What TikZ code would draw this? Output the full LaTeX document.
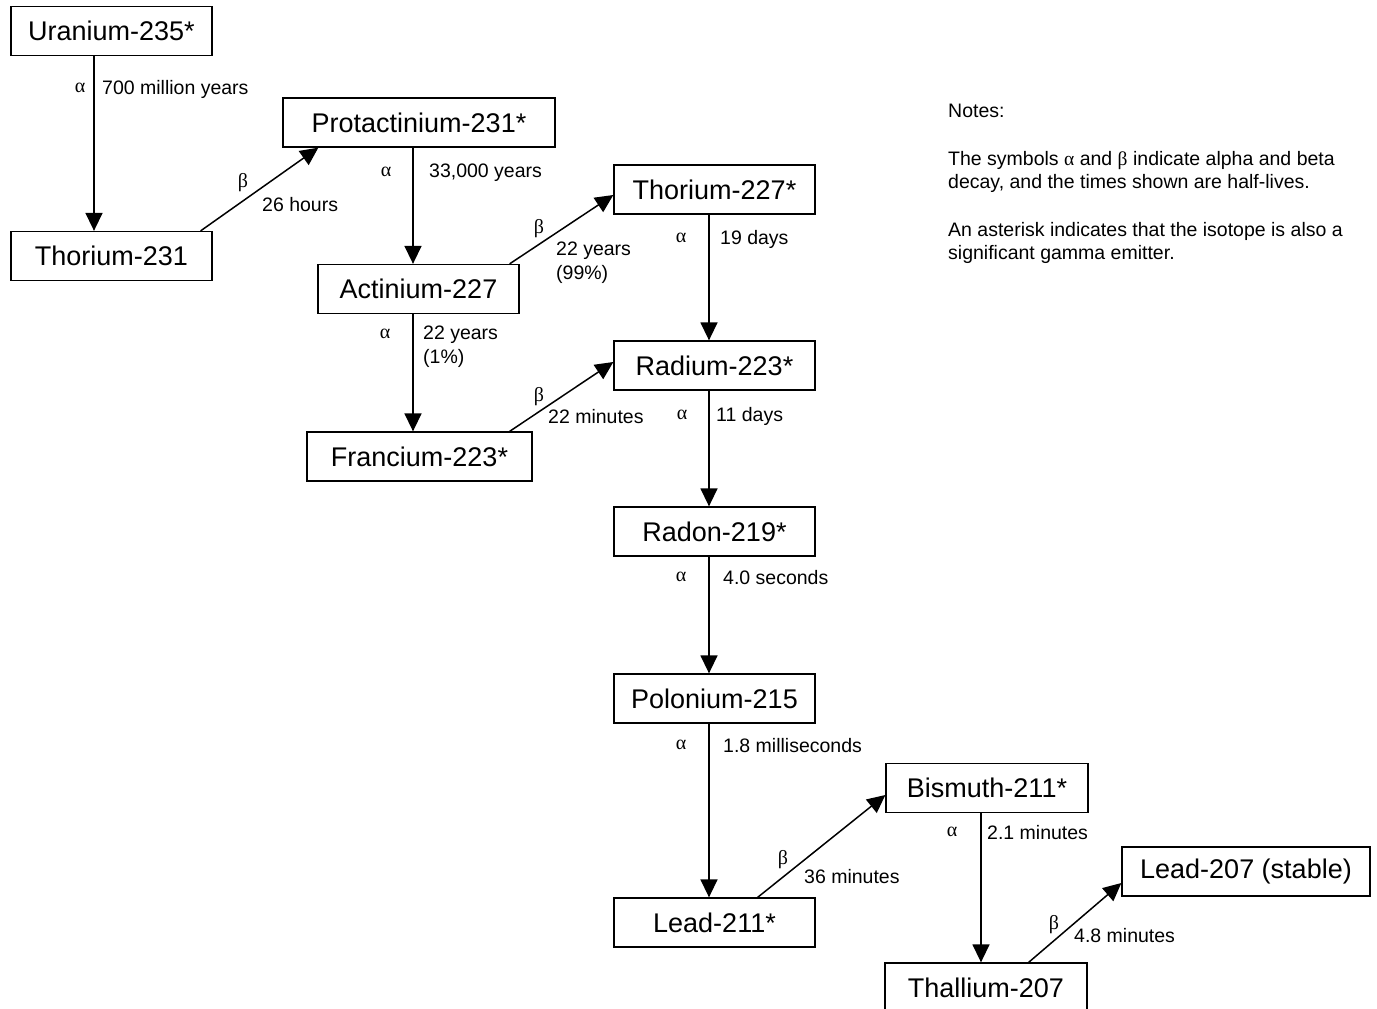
\documentclass[tikz,border=0pt]{standalone}
\usepackage{fontspec}
\setmainfont{Liberation Sans}
\newfontfamily\greek{Liberation Serif}
\usetikzlibrary{arrows.meta}
\begin{document}
\begin{tikzpicture}[x=1pt,y=-1pt]
        \tikzstyle{isotope}=[rectangle,draw=black,line width=1.3pt,inner sep=0pt,minimum width=201pt,minimum height=49pt,font=\fontsize{27}{32}\selectfont]
        \tikzstyle{decay}=[draw,line width=1.5pt,-{Triangle[length=18pt,width=17pt]}]
        \tikzstyle{sym}=[inner sep=0pt,font=\fontsize{20}{23}\selectfont\greek]
        \tikzstyle{halflife}=[inner sep=0pt,anchor=west,align=left,font=\fontsize{19.5}{23.5}\selectfont]
        \useasboundingbox (0,0) rectangle (1377,1009);
        \clip (0,0) rectangle (1377,1009);
       \begin{scope}
         \node [isotope] (u235) at (111.5,31) {Uranium-235*};
         \node [isotope] (th231) at (111.5,256) {Thorium-231};
         \node [isotope,minimum width=272pt] (pa231) at (419,122.5) {Protactinium-231*};
         \node [isotope] (ac227) at (418.5,289) {Actinium-227};
         \node [isotope,minimum width=225pt] (fr223) at (419.5,456.5) {Francium-223*};
         \node [isotope] (th227) at (714.5,189.5) {Thorium-227*};
         \node [isotope] (ra223) at (714.5,365.5) {Radium-223*};
         \node [isotope] (rn219) at (714.5,531.5) {Radon-219*};
         \node [isotope] (po215) at (714.5,698.5) {Polonium-215};
         \node [isotope] (pb211) at (714.5,922.5) {Lead-211*};
         \node [isotope,minimum width=202pt] (bi211) at (987,788) {Bismuth-211*};
         \node [isotope,minimum width=202pt] (tl207) at (986,987.5) {Thallium-207};
         \node [isotope,minimum width=248pt] (pb207) at (1246,871.5) {Lead-207 (stable)};
        \end{scope}
        \path[decay] ([xshift=-17.5]u235.south) -- ([xshift=-17.5]th231.north);
        \path[decay] ([xshift=-12]th231.north east) -- ([xshift=36]pa231.south west);
        \path[decay] ([xshift=-6]pa231.south) -- ([xshift=-5.5]ac227.north);
        \path[decay] ([xshift=-10]ac227.north east) -- ([yshift=-5.5]th227.west);
        \path[decay] ([xshift=-5.5]ac227.south) -- ([xshift=-6.5]fr223.north);
        \path[decay] ([xshift=-23]fr223.north east) -- ([yshift=3.5]ra223.west);
        \path[decay] ([xshift=-5.5]th227.south) -- ([xshift=-5.5]ra223.north);
        \path[decay] ([xshift=-5.5]ra223.south) -- ([xshift=-5.5]rn219.north);
        \path[decay] ([xshift=-5.5]rn219.south) -- ([xshift=-5.5]po215.north);
        \path[decay] ([xshift=-5.5]po215.south) -- ([xshift=-5.5]pb211.north);
        \path[decay] ([xshift=-58]pb211.north east) -- ([yshift=-7]bi211.west);
        \path[decay] ([xshift=-6]bi211.south) -- ([xshift=-5]tl207.north);
        \path[decay] ([xshift=-59]tl207.north east) -- ([yshift=-11.5]pb207.west);
         \node [sym] (a1) at (80,88) {α};
         \node [halflife] (t1) at (102,89) {700 million years};
         \node [sym] (b1) at (243,183) {β};
         \node [halflife] (t2) at (262,205) {26 hours};
         \node [sym] (a2) at (386,172) {α};
         \node [halflife] (t3) at (429,173) {33,000 years};
         \node [sym] (b2) at (539,229) {β};
         \node [halflife] (t4) at (556,262.5) {22 years\\(99\%)};
         \node [sym] (a3) at (385,334) {α};
         \node [halflife] (t5) at (423,346.5) {22 years\\(1\%)};
         \node [sym] (b3) at (539,397) {β};
         \node [halflife] (t6) at (548,417) {22 minutes};
         \node [sym] (a4) at (681,238) {α};
         \node [halflife] (t7) at (720,239) {19 days};
         \node [sym] (a5) at (682,415) {α};
         \node [halflife] (t8) at (716,416) {11 days};
         \node [sym] (a6) at (681,577) {α};
         \node [halflife] (t9) at (723,578) {4.0 seconds};
         \node [sym] (a7) at (681,745) {α};
         \node [halflife] (t10) at (723,746) {1.8 milliseconds};
         \node [sym] (b4) at (783,860) {β};
         \node [halflife] (t11) at (804,877) {36 minutes};
         \node [sym] (a8) at (952,832) {α};
         \node [halflife] (t12) at (987,833) {2.1 minutes};
         \node [sym] (b5) at (1054,925) {β};
         \node [halflife] (t13) at (1074,936) {4.8 minutes};
         \node [inner sep=0pt,anchor=north west,align=left,font=\fontsize{19.5}{23.7}\selectfont] (notes) at (948,104) {Notes:\\[23.7pt]The symbols {\greek α} and {\greek β} indicate alpha and beta\\decay, and the times shown are half-lives.\\[23.7pt]An asterisk indicates that the isotope is also a\\significant gamma emitter.};
      \end{tikzpicture}
\end{document}
